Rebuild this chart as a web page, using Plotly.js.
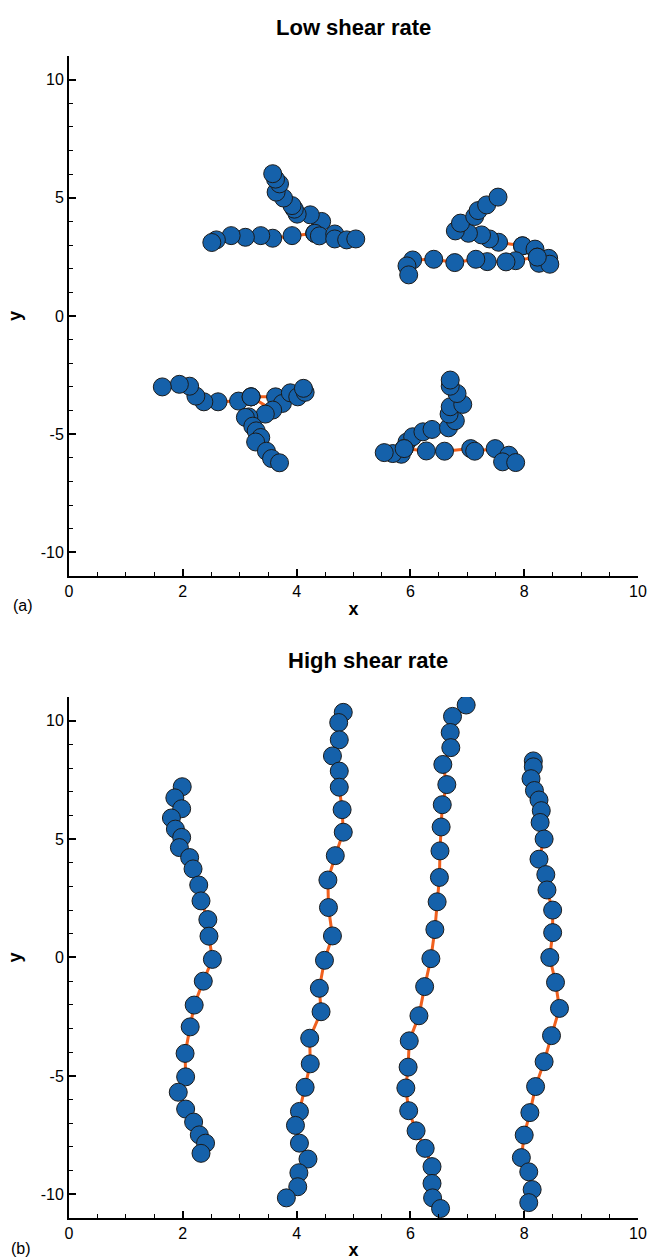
<!DOCTYPE html>
<html><head><meta charset="utf-8">
<script src="https://cdn.plot.ly/plotly-3.0.1.min.js"></script>
<style>body{margin:0;background:#fff}</style>
</head><body><div id="chart" style="width:650px;height:1260px"></div>
<script>
// ---- tick labels ----
const xTickVals = [0, 2, 4, 6, 8, 10];
const xTickText = ['0', '2', '4', '6', '8', '10'];
const yTickVals = [-10, -5, 0, 5, 10];
const yTickText = ['-10', '-5', '0', '5', '10'];

// ---- Low shear rate: four 3-arm star polymers (arms separated by null, each arm starts at the core) ----
const star1X = [4.32,3.92,3.58,3.37,3.10,2.85,2.59,2.51, null,
                4.32,4.44,4.24,4.01,3.96,3.92,3.77,3.64,3.70,3.63,3.58, null,
                4.32,4.40,4.67,4.67,4.88,5.04];
const star1Y = [3.50,3.40,3.29,3.40,3.33,3.40,3.22,3.11, null,
                3.50,4.00,4.28,4.31,4.52,4.67,4.99,5.24,5.59,5.79,6.02, null,
                3.50,3.39,3.47,3.26,3.22,3.26];
const star2X = [7.97,7.55,7.39,7.25,7.02,6.79,6.88,7.13,7.19,7.34,7.54, null,
                7.97,8.19,8.23,8.43,8.26,8.45, null,
                8.23,7.85,7.68,7.35,7.15,6.78,6.41,6.04,5.94,5.97];
const star2Y = [2.97,3.12,3.26,3.43,3.50,3.60,3.93,4.21,4.46,4.70,5.03, null,
                2.97,2.83,2.49,2.44,2.23,2.19, null,
                2.49,2.34,2.29,2.30,2.40,2.26,2.40,2.37,2.12,1.74];
const star3X = [3.20,2.98,2.62,2.37,2.23,2.12,1.94,1.64, null,
                3.20,3.63,3.75,3.89,4.02,4.15,4.12, null,
                3.20,3.58,3.45,3.16,3.10,3.23,3.29,3.37,3.28,3.47,3.56,3.70];
const star3Y = [-3.42,-3.60,-3.63,-3.63,-3.39,-2.97,-2.89,-3.00, null,
                -3.42,-3.42,-3.70,-3.25,-3.42,-3.23,-3.06, null,
                -3.42,-3.98,-4.15,-4.27,-4.29,-4.66,-4.86,-5.14,-5.33,-5.72,-6.03,-6.21];
const star4X = [5.89,5.94,6.04,6.22,6.38,6.67,6.79,6.68,6.70,6.92,6.82,6.70,6.70, null,
                5.89,5.84,5.69,5.54, null,
                5.89,6.28,6.60,7.06,7.13,7.49,7.73,7.62,7.85];
const star4Y = [-5.61,-5.33,-5.11,-4.90,-4.80,-4.73,-4.43,-4.15,-3.84,-3.74,-3.28,-2.97,-2.71, null,
                -5.61,-5.85,-5.82,-5.78, null,
                -5.61,-5.71,-5.72,-5.61,-5.72,-5.61,-5.89,-6.17,-6.20];

// ---- High shear rate: four stretched chains ----
const chain1X = [1.99,1.86,1.98,1.80,1.87,1.98,1.94,2.12,2.18,2.28,2.32,2.44,2.46,2.52,2.36,2.20,2.13,2.04,2.05,1.92,2.05,2.19,2.29,2.40,2.32];
const chain1Y = [7.21,6.74,6.28,5.89,5.42,5.07,4.64,4.22,3.74,3.06,2.39,1.60,0.90,-0.08,-1.00,-2.01,-2.93,-4.05,-5.04,-5.69,-6.40,-6.95,-7.49,-7.84,-8.27];
const chain2X = [4.82,4.74,4.75,4.63,4.75,4.75,4.80,4.82,4.68,4.55,4.56,4.63,4.49,4.40,4.43,4.23,4.24,4.15,4.05,3.98,4.05,4.20,4.04,4.02,3.82];
const chain2Y = [10.35,9.92,9.19,8.51,7.87,7.19,6.24,5.29,4.30,3.27,2.11,0.91,-0.12,-1.30,-2.29,-3.41,-4.49,-5.48,-6.50,-7.09,-7.84,-8.51,-9.09,-9.68,-10.15];
const chain3X = [6.98,6.74,6.70,6.71,6.57,6.64,6.56,6.54,6.52,6.51,6.47,6.43,6.36,6.25,6.15,5.98,5.96,5.92,5.97,6.10,6.26,6.38,6.38,6.39,6.53];
const chain3Y = [10.66,10.18,9.50,8.86,8.15,7.30,6.45,5.51,4.50,3.38,2.35,1.18,-0.05,-1.23,-2.46,-3.52,-4.63,-5.51,-6.47,-7.32,-8.06,-8.83,-9.54,-10.15,-10.60];
const chain4X = [8.16,8.16,8.12,8.18,8.26,8.30,8.28,8.35,8.26,8.38,8.40,8.50,8.50,8.45,8.55,8.62,8.48,8.35,8.20,8.10,8.00,7.95,8.08,8.14,8.08];
const chain4Y = [8.30,8.05,7.55,7.05,6.65,6.20,5.70,5.00,4.15,3.50,2.85,2.00,1.05,0.00,-1.05,-2.15,-3.30,-4.40,-5.45,-6.55,-7.50,-8.45,-9.05,-9.80,-10.35];

const beadFill = '#1561AA';
const beadEdge = '#1b1b1b';
const linkColor = '#F0601E';

function polymer(x, y, xa, ya) {
  return {
    type: 'scatter', mode: 'lines+markers', x: x, y: y, xaxis: xa, yaxis: ya,
    connectgaps: false, hoverinfo: 'skip', showlegend: false,
    line: {color: linkColor, width: 3},
    marker: {size: 18, color: beadFill, line: {color: beadEdge, width: 1}}
  };
}

const traces = [
  polymer(star1X, star1Y, 'x', 'y'),
  polymer(star2X, star2Y, 'x', 'y'),
  polymer(star3X, star3Y, 'x', 'y'),
  polymer(star4X, star4Y, 'x', 'y'),
  polymer(chain1X, chain1Y, 'x2', 'y2'),
  polymer(chain2X, chain2Y, 'x2', 'y2'),
  polymer(chain3X, chain3Y, 'x2', 'y2'),
  polymer(chain4X, chain4Y, 'x2', 'y2')
];

const font = 'Liberation Sans, Arial, Helvetica, sans-serif';
function xax(anchor) {
  return {
    anchor: anchor, domain: [0, 1], range: [0, 10],
    tickmode: 'array', tickvals: xTickVals, ticktext: xTickText,
    ticks: 'inside', ticklen: 7, tickwidth: 2, tickcolor: '#000',
    minor: {dtick: 0.5, tick0: 0, ticks: 'inside', ticklen: 4, tickwidth: 1, tickcolor: '#000'},
    showline: true, linewidth: 2, linecolor: '#000', mirror: false,
    showgrid: false, zeroline: false,
    tickfont: {family: font, size: 16, color: '#000'},
    title: {text: '<b>x</b>', font: {family: font, size: 18, color: '#000'}, standoff: 3}
  };
}
function yax(anchor, domain) {
  return {
    anchor: anchor, domain: domain, range: [-11, 11],
    tickmode: 'array', tickvals: yTickVals, ticktext: yTickText,
    ticks: 'inside', ticklen: 7, tickwidth: 2, tickcolor: '#000',
    minor: {dtick: 1, tick0: 0, ticks: 'inside', ticklen: 4, tickwidth: 1, tickcolor: '#000'},
    showline: true, linewidth: 2, linecolor: '#000', mirror: false,
    showgrid: false, zeroline: false,
    tickfont: {family: font, size: 16, color: '#000'},
    title: {text: '<b>y</b>', font: {family: font, size: 18, color: '#000'}, standoff: 14}
  };
}

const layout = {
  width: 650, height: 1260,
  margin: {l: 69, r: 12, t: 56, b: 42},
  paper_bgcolor: '#fff', plot_bgcolor: '#fff',
  xaxis: xax('y'), yaxis: yax('x', [0.5525, 1]),
  xaxis2: xax('y2'), yaxis2: yax('x2', [0, 0.4484]),
  annotations: [
    {text: '<b>Low shear rate</b>', xref: 'paper', yref: 'paper', x: 0.5, y: 1, yshift: 29,
     showarrow: false, xanchor: 'center', yanchor: 'middle', font: {family: font, size: 22, color: '#000'}},
    {text: '<b>High shear rate</b>', xref: 'paper', yref: 'paper', x: 0.526, y: 0.4484, yshift: 36,
     showarrow: false, xanchor: 'center', yanchor: 'middle', font: {family: font, size: 22, color: '#000'}},
    {text: '(a)', xref: 'paper', yref: 'paper', x: 0, y: 0.5525, xshift: -58, yshift: -30,
     showarrow: false, xanchor: 'left', yanchor: 'middle', font: {family: font, size: 16, color: '#000'}},
    {text: '(b)', xref: 'paper', yref: 'paper', x: 0, y: 0, xshift: -60, yshift: -30,
     showarrow: false, xanchor: 'left', yanchor: 'middle', font: {family: font, size: 16, color: '#000'}}
  ]
};

Plotly.newPlot('chart', traces, layout, {displayModeBar: false, staticPlot: true});
</script></body></html>
